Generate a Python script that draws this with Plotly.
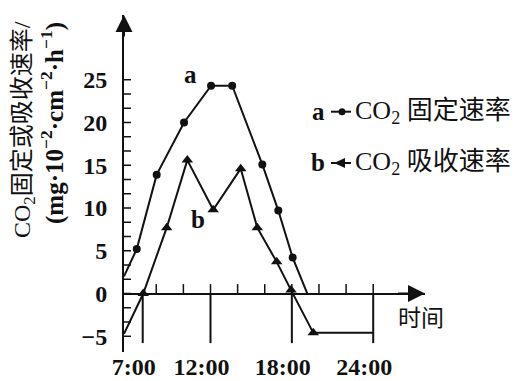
import plotly.graph_objects as go

# ---------------- data ----------------
a_time = [5.62, 6.56, 8.03, 10.05, 12.04, 13.6, 15.82, 17.0, 18.06, 19.14]
a_rate = [2.0, 5.2, 13.9, 20.0, 24.3, 24.3, 15.1, 9.7, 4.2, 0.0]

b_time = [5.62, 7.04, 8.77, 10.29, 12.2, 14.23, 15.45, 16.88, 17.94, 19.58, 24.0]
b_rate = [-4.7, 0.0, 7.7, 15.6, 9.8, 14.6, 7.7, 3.7, 0.4, -4.6, -4.6]

x_tick_vals = [7, 12, 18, 24]
x_tick_text = ["7:00", "12:00", "18:00", "24:00"]
x_minor_hours = [8, 10, 12, 14, 16, 18, 20, 22, 24]

y_tick_vals = [-5, 0, 5, 10, 15, 20, 25]
y_tick_text = ["−5", "0", "5", "10", "15", "20", "25"]
y_minor_step = 5 / 3

series_a_name = "CO<sub>2</sub> 固定速率"
series_b_name = "CO<sub>2</sub> 吸收速率"
y_title_1 = "CO<sub>2</sub>固定或吸收速率/"
y_title_2 = "(mg·10<sup>−2</sup>·cm<sup>−2</sup>·h<sup>−1</sup>)"
x_title = "时间"

# ---------------- layout constants ----------------
W, H = 519, 381
L, R, T, B = 124, 94, 15, 29
X_RANGE = [5.62, 27.82]
Y_RANGE = [-6.84, 32.57]
FONT = "Liberation Serif, Noto Sans CJK SC, serif"
INK = "#111111"


def px(xp):
    return (xp - L) / (W - L - R)


def py(yp):
    return (H - B - yp) / (H - T - B)


fig = go.Figure()

# series a : circles
fig.add_trace(go.Scatter(x=a_time, y=a_rate, mode="lines",
                         line=dict(color=INK, width=2), showlegend=False,
                         hoverinfo="skip"))
fig.add_trace(go.Scatter(x=a_time[1:-1], y=a_rate[1:-1], mode="markers",
                         marker=dict(symbol="circle", size=8, color=INK),
                         showlegend=False))
# series b : triangles
fig.add_trace(go.Scatter(x=b_time, y=b_rate, mode="lines",
                         line=dict(color=INK, width=2), showlegend=False,
                         hoverinfo="skip"))
fig.add_trace(go.Scatter(x=b_time[1:-1], y=b_rate[1:-1], mode="markers",
                         marker=dict(symbol="triangle-up", size=10, color=INK),
                         showlegend=False))

shapes = []
# long ticks below the time axis
for h in x_tick_vals:
    shapes.append(dict(type="line", xref="x", yref="y", x0=h, x1=h, y0=0, y1=-5.8,
                       line=dict(color=INK, width=2)))
# short ticks above the time axis
for h in x_minor_hours:
    shapes.append(dict(type="line", xref="x", yref="y", x0=h, x1=h, y0=0, y1=1.1,
                       line=dict(color=INK, width=1.5)))
# small ticks on the rate axis (inside, to the right)
v = y_tick_vals[0]
while v <= y_tick_vals[-1] + 1e-6:
    shapes.append(dict(type="line", xref="paper", yref="y", x0=0, x1=px(L + 7), y0=v, y1=v,
                       line=dict(color=INK, width=1.5)))
    v += y_minor_step

# legend samples
for yy, sym in [(111.7, "circle"), (163.0, "tri")]:
    shapes.append(dict(type="line", xref="paper", yref="paper",
                       x0=px(331), x1=px(351), y0=py(yy), y1=py(yy),
                       line=dict(color=INK, width=2)))
    if sym == "circle":
        shapes.append(dict(type="circle", xref="paper", yref="paper",
                           x0=px(338.5), x1=px(345.5), y0=py(yy + 3.5), y1=py(yy - 3.5),
                           fillcolor=INK, line=dict(color=INK, width=0)))
    else:
        shapes.append(dict(type="path", xref="paper", yref="paper",
                           path=f"M {px(334)} {py(yy)} L {px(345)} {py(yy - 5)} L {px(345)} {py(yy + 5)} Z",
                           fillcolor=INK, line=dict(color=INK, width=0)))

ann = []
# axis arrows
ann.append(dict(xref="paper", yref="paper", x=0, y=1, ax=0, ay=30,
                showarrow=True, arrowhead=2, arrowsize=1.7, arrowwidth=2, arrowcolor=INK, text=" "))
ann.append(dict(xref="paper", yref="y", x=1, y=0, ax=-30, ay=0,
                showarrow=True, arrowhead=2, arrowsize=1.7, arrowwidth=2, arrowcolor=INK, text=" "))
# y title (two rotated lines)
ann.append(dict(xref="paper", yref="paper", x=px(24), y=py(130), text=y_title_1, textangle=-90,
                showarrow=False, xanchor="center", yanchor="middle",
                font=dict(family=FONT, size=24, color=INK)))
ann.append(dict(xref="paper", yref="paper", x=px(53), y=py(123), text=y_title_2, textangle=-90,
                showarrow=False, xanchor="center", yanchor="middle",
                font=dict(family=FONT, size=25, color=INK, weight="bold")))
# x title
ann.append(dict(xref="paper", yref="paper", x=px(421), y=py(318), text=x_title,
                showarrow=False, xanchor="center", yanchor="middle",
                font=dict(family=FONT, size=23, color=INK)))
# curve labels
ann.append(dict(xref="x", yref="y", x=10.54, y=25.6, text="a", showarrow=False,
                font=dict(family=FONT, size=25, color=INK, weight="bold")))
ann.append(dict(xref="x", yref="y", x=11.1, y=8.6, text="b", showarrow=False,
                font=dict(family=FONT, size=25, color=INK, weight="bold")))
# legend text
for yy, letter, name in [(111.7, "a", series_a_name), (163.0, "b", series_b_name)]:
    ann.append(dict(xref="paper", yref="paper", x=px(318), y=py(yy), text=letter,
                    showarrow=False, xanchor="center", yanchor="middle",
                    font=dict(family=FONT, size=25, color=INK, weight="bold")))
    ann.append(dict(xref="paper", yref="paper", x=px(353), y=py(yy), text=name,
                    showarrow=False, xanchor="left", yanchor="middle",
                    font=dict(family=FONT, size=26, color=INK)))

fig.update_layout(
    width=W, height=H,
    margin=dict(l=L, r=R, t=T, b=B, pad=0, autoexpand=False),
    paper_bgcolor="white", plot_bgcolor="white",
    showlegend=False,
    shapes=shapes, annotations=ann,
    font=dict(family=FONT, color=INK),
    xaxis=dict(range=X_RANGE, showgrid=False, zeroline=False, showline=False,
               automargin=False,
               tickmode="array", tickvals=x_tick_vals, ticktext=x_tick_text,
               ticks="", ticklabelshift=-9, ticklabelstandoff=-2,
               tickfont=dict(family=FONT, size=24, color=INK, weight="bold"), fixedrange=True),
    yaxis=dict(range=Y_RANGE, showgrid=False, zeroline=True, zerolinecolor=INK,
               zerolinewidth=2, showline=True, linecolor=INK, linewidth=2,
               automargin=False,
               tickmode="array", tickvals=y_tick_vals, ticktext=y_tick_text,
               ticks="", ticklabelstandoff=10,
               tickfont=dict(family=FONT, size=24, color=INK, weight="bold"), fixedrange=True),
)

fig.write_html("out.html", config={"displayModeBar": False},
               post_script="document.body.style.margin='0';document.body.style.overflow='hidden';")
